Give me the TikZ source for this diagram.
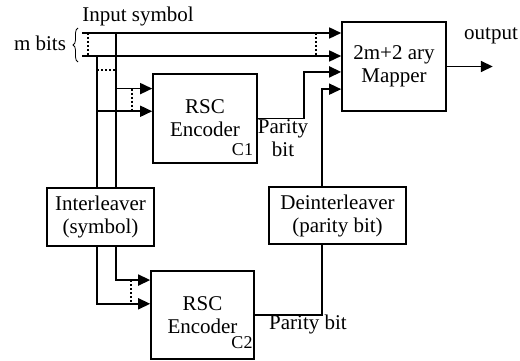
\documentclass[tikz,border=0pt]{standalone}
\usepackage{fontspec}
\setmainfont{Liberation Serif}
\usetikzlibrary{positioning, arrows.meta, calc, decorations.pathreplacing}

\begin{document}
\begin{tikzpicture}[
    x=1pt, y=-1pt,
    block/.style={rectangle, draw=black, line width=1.6pt, minimum width=104pt, minimum height=89pt, align=center, inner sep=0pt, font=\fontsize{21}{23}\selectfont},
    txt/.style={align=center, inner sep=0pt, font=\fontsize{21}{23}\selectfont},
    tag/.style={inner sep=0pt, font=\fontsize{18}{20}\selectfont},
    wire/.style={line width=1.6pt},
    arrow/.style={-{Triangle[length=12pt, width=11pt]}, line width=1.6pt},
    dots/.style={line width=1.6pt, dash pattern=on 2pt off 2pt}
]
\useasboundingbox (0,0) rectangle (520,361);

% Blocks
\node[block] (mapper) at (394,66.5) {2m+2 ary\\Mapper};
\node[block] (rsc1) at (205,118.5) {RSC\\Encoder};
\node[block, minimum width=103pt, minimum height=88pt] (rsc2) at (202.5,315) {RSC\\Encoder};
\node[block, minimum width=107pt, minimum height=58pt] (inter) at (100.5,217) {Interleaver\\(symbol)};
\node[block, minimum width=137pt, minimum height=57pt] (deint) at (337.5,215.5) {Deinterleaver\\(parity bit)};
\node[tag] (c1) at (242.5,150) {C1};
\node[tag] (c2) at (242,343) {C2};

% Labels
\node[txt] (insym) at (138,16) {Input symbol};
\node[txt] (mbits) at (40,43) {m bits};
\node[txt] (outlbl) at (491,36) {output};
\node[txt] (ptop) at (283,138) {Parity\\bit};
\node[txt] (pbot) at (308,324) {Parity bit};

% Helper coordinates
\coordinate (in1) at (82,33);
\coordinate (in2) at (82,56);
\coordinate (colA) at (116,0);
\coordinate (colB) at (97,0);
\coordinate (pcol) at (322,0);
\coordinate (r1a) at ($(rsc1.north west)!0.17!(rsc1.south west)$);
\coordinate (r1b) at ($(rsc1.north west)!0.42!(rsc1.south west)$);
\coordinate (r2a) at ($(rsc2.north west)!0.11!(rsc2.south west)$);
\coordinate (r2b) at ($(rsc2.north west)!0.375!(rsc2.south west)$);
\coordinate (m3) at ($(mapper.north west)!0.56!(mapper.south west)$);
\coordinate (m4) at ($(mapper.north west)!0.75!(mapper.south west)$);
\coordinate (outend) at ($(mapper.east)+(46,0)$);

% m bits brace
\draw[decorate, decoration={brace, amplitude=5pt}, line width=0.8pt] (78,62) -- (78,28);

% Input symbol lines
\draw[arrow] (in1) -- (in1 -| mapper.west);
\draw[arrow] (in2) -- (in2 -| mapper.west);
\draw[dots] ([xshift=6pt]in1) -- ([xshift=6pt]in2);
\draw[dots] ([xshift=-25pt]in1 -| mapper.west) -- ([xshift=-25pt]in2 -| mapper.west);

% Taps down to the interleaver
\draw[wire] (in1 -| colA) -- (inter.north -| colA);
\draw[wire] (in2 -| colB) -- (inter.north -| colB);
\draw[dots] ($(in2 -| colB)+(0,14)$) -- ($(in2 -| colA)+(0,14)$);

% Into encoder C1
\draw[arrow] (r1a -| colA) -- (r1a);
\draw[arrow] (r1b -| colB) -- (r1b);
\draw[dots] ($(r1a)+(-20,0)$) -- ($(r1b)+(-20,0)$);

% Into encoder C2
\draw[arrow] (inter.south -| colA) |- (r2a);
\draw[arrow] (inter.south -| colB) |- (r2b);
\draw[dots] ($(r2a)+(-19,0)$) -- ($(r2b)+(-19,0)$);

% Parity bits to the mapper
\draw[arrow] (rsc1.east) -| ($(m3)+(-37,0)$) -- (m3);
\draw[wire] (rsc2.east) -| (deint.south -| pcol);
\draw[arrow] (deint.north -| pcol) |- (m4);

% Output
\draw[arrow] (mapper.east) -- (outend);

\end{tikzpicture}
\end{document}
